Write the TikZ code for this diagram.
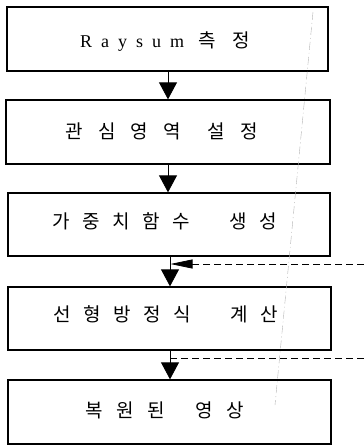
\documentclass[tikz,border=0pt]{standalone}
\usepackage{fontspec}
\setmainfont{Liberation Serif}
\newfontfamily\kr{Noto Sans CJK KR}
\usetikzlibrary{arrows.meta}
\newcommand\sgap[1]{\hspace{#1pt}}
\newcommand\tsz{\fontsize{18pt}{21pt}\selectfont}
\newcommand\ksz{\fontsize{19pt}{22pt}\selectfont}
\begin{document}
\begin{tikzpicture}[x=1pt,y=-1pt,
  box/.style={draw,line width=1.3pt,inner sep=0pt},
  txt/.style={inner sep=0pt},
  flow/.style={line width=0.8pt,-{Triangle[width=18pt,length=17pt]}},
  back/.style={line width=0.8pt,-{Triangle[width=9pt,length=22pt]}},
  fb/.style={line width=0.8pt,dash pattern=on 7pt off 4pt},
  scan/.style={gray!60,line width=0.4pt,dash pattern=on 8pt off 3pt on 1pt off 3pt}]
\useasboundingbox (0,0) rectangle (364,445);
\node[box,minimum width=321pt,minimum height=64pt] (b1) at (167.5,39) {};
\node[box,minimum width=324pt,minimum height=64pt] (b2) at (168,132) {};
\node[box,minimum width=322pt,minimum height=63pt] (b3) at (169,224.5) {};
\node[box,minimum width=323pt,minimum height=63pt] (b4) at (169.5,318.5) {};
\node[box,minimum width=323pt,minimum height=64pt] (b5) at (169.5,412) {};
\node[txt,anchor=base west] (t1) at (80,47) {\tsz R\sgap{9}a\sgap{9}y\sgap{9}s\sgap{9}u\sgap{9}m\sgap{14}{\kr\ksz 측\sgap{17}정}};
\node[txt,anchor=west] (t2) at (65.5,131) {\kr\ksz 관\sgap{15}심\sgap{15}영\sgap{15}역\sgap{27}설\sgap{15}정};
\node[txt,anchor=west] (t3) at (52,221) {\kr\ksz 가\sgap{12.5}중\sgap{12.5}치\sgap{12.5}함\sgap{12.5}수\sgap{39.5}생\sgap{12.5}성};
\node[txt,anchor=west] (t4) at (53,314.5) {\kr\ksz 선\sgap{12.5}형\sgap{12.5}방\sgap{12.5}정\sgap{12.5}식\sgap{39.5}계\sgap{12.5}산};
\node[txt,anchor=west] (t5) at (85,410) {\kr\ksz 복\sgap{13.5}원\sgap{13.5}된\sgap{31}영\sgap{13.5}상};
\draw[flow] ([xshift=0.5]b1.south) -- (b2.north);
\draw[flow] (b2.south) -- ([xshift=-1]b3.north);
\draw[flow] ([xshift=1]b3.south) -- ([xshift=0.5]b4.north);
\draw[flow] ([xshift=0.5]b4.south) -- ([xshift=0.5]b5.north);
\coordinate (fbin) at (364,264);
\coordinate (fbhead) at (194,264);
\coordinate (j3) at (170.5,264);
\coordinate (j4) at (170,358);
\coordinate (fbout) at (364,358);
\draw[fb] (fbin) -- (fbhead);
\draw[back] (fbhead) -- (j3);
\draw[fb] (j4) -- (fbout);
\coordinate (s1) at (313,12);
\coordinate (s2) at (275,405);
\draw[scan] (s1) -- (s2);
\end{tikzpicture}
\end{document}
